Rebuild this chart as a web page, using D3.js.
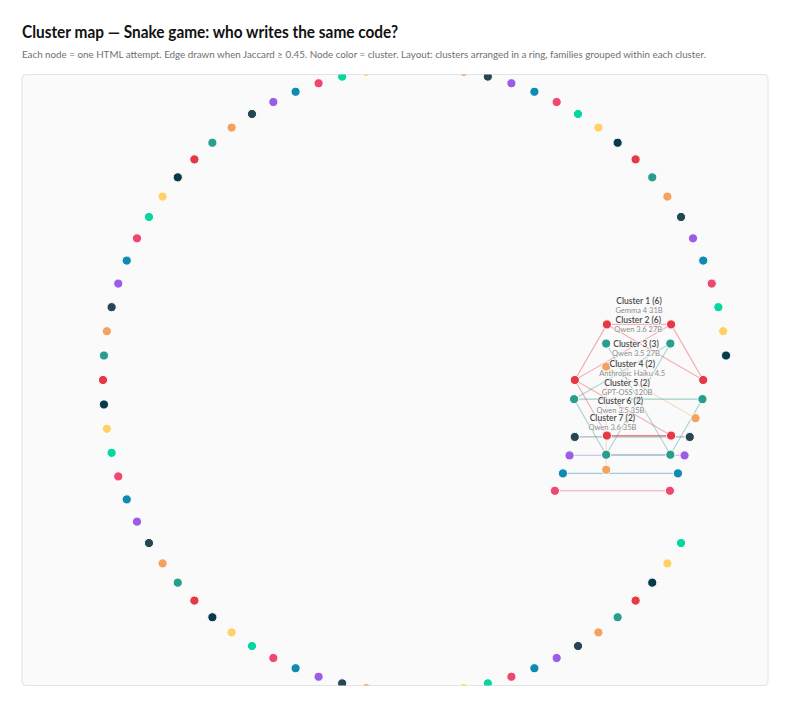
<!DOCTYPE html>
<html>
<head>
<meta charset="utf-8">
<script src="https://cdn.jsdelivr.net/npm/d3@7"></script>
<style>
  body { margin: 0; background: #fff; }
  svg { display: block; font-family: "Lato", "Noto Sans", sans-serif; }
</style>
</head>
<body>
<div id="chart"></div>
<script>
const width = 800;
const height = 708;
const panel = { x: 22, y: 74.5, w: 746, h: 611 };

// cluster sizes, biggest first; the rest are single attempts
const clusterSizes = [
  6, 6, 3, 2, 2, 2, 2,
  1, 1, 1, 1, 1, 1, 1, 1, 1, 1, 1, 1, 1, 1, 1, 1, 1, 1, 1, 1, 1, 1, 1, 1, 1, 1, 1, 1, 1, 1, 1,
  1, 1, 1, 1, 1, 1, 1, 1, 1, 1, 1, 1, 1, 1, 1, 1, 1, 1, 1, 1, 1, 1, 1, 1, 1, 1, 1, 1, 1, 1, 1,
  1, 1, 1, 1, 1, 1, 1, 1, 1, 1, 1,
];
const clusterFamilies = [
  "Gemma 4 31B",
  "Qwen 3.6 27B",
  "Qwen 3.5 27B",
  "Anthropic Haiku 4.5",
  "GPT-OSS 120B",
  "Qwen 3.5 35B",
  "Qwen 3.6 35B",
];
// [cluster, node a, node b] for pairs with Jaccard >= 0.45
const edgeList = [
  [0, 4, 5], [0, 3, 4], [0, 5, 0], [0, 4, 0], [0, 5, 3], [0, 3, 1], [0, 2, 1], [0, 3, 2],
  [1, 3, 0], [1, 4, 1], [1, 5, 2], [1, 3, 2], [1, 0, 1], [1, 3, 5], [1, 2, 1],
  [2, 2, 0], [2, 2, 1],
  [3, 0, 1], [4, 0, 1], [5, 0, 1], [6, 0, 1],
];
const edgeJaccard = [
  0.5, 0.52, 0.52, 0.5, 0.48, 0.5, 0.68, 0.5,
  0.55, 0.5, 0.5, 0.5, 0.5, 0.47, 0.5,
  0.48, 0.46,
  0.5, 0.5, 0.52, 0.55,
];
const palette = [
  "#e63946", "#2a9d8f", "#f4a261", "#264653", "#9b5de5",
  "#118ab2", "#ef476f", "#06d6a0", "#ffd166", "#073b4c",
];

const cx = panel.w / 2;
const cy = panel.h / 2;
const angle = d3.scaleLinear().domain([0, clusterSizes.length]).range([0, 2 * Math.PI]);
const color = d3.scaleOrdinal().domain(d3.range(clusterSizes.length)).range(palette);
const edgeOpacity = d3.scaleLinear().domain([0.45, 0.8]).range([0.3, 0.8]).clamp(true);
const ringRadius = (n) => (n > 1 ? 244 : 312);
const orbitRadius = (n) => (n > 1 ? 48.4 + 6.44 * Math.sqrt(n) : 20);

const clusters = clusterSizes.map((n, i) => {
  const a = angle(i);
  const R = ringRadius(n);
  return { i, n, x: cx + R * Math.cos(a), y: cy + R * Math.sin(a), r: orbitRadius(n) };
});
const nodes = clusters.flatMap((c) =>
  d3.range(c.n).map((j) => {
    const a = (2 * Math.PI * j) / c.n;
    return { cluster: c.i, j, x: c.x + c.r * Math.cos(a), y: c.y + c.r * Math.sin(a) };
  })
);
const nodeAt = (c, j) => nodes.find((d) => d.cluster === c && d.j === j);
// small clusters first so the big ones sit on top
const edges = edgeList
  .map(([c, a, b], k) => ({ c, a: nodeAt(c, a), b: nodeAt(c, b), w: edgeJaccard[k] }))
  .reverse();

const svg = d3
  .select("#chart")
  .append("svg")
  .attr("width", width)
  .attr("height", height);

svg
  .append("text")
  .attr("x", 22)
  .attr("y", 38)
  .attr("font-size", 16.5)
  .attr("font-weight", 700)
  .attr("fill", "#111")
  .attr("textLength", 376)
  .attr("lengthAdjust", "spacingAndGlyphs")
  .text("Cluster map — Snake game: who writes the same code?");

svg
  .append("text")
  .attr("x", 22)
  .attr("y", 58)
  .attr("font-size", 9.5)
  .attr("fill", "#6f6f6f")
  .attr("textLength", 684)
  .attr("lengthAdjust", "spacingAndGlyphs")
  .text(
    "Each node = one HTML attempt. Edge drawn when Jaccard ≥ 0.45. Node color = cluster. Layout: clusters arranged in a ring, families grouped within each cluster."
  );

svg
  .append("defs")
  .append("clipPath")
  .attr("id", "panel-clip")
  .append("rect")
  .attr("width", panel.w)
  .attr("height", panel.h)
  .attr("rx", 4);

const g = svg.append("g").attr("transform", `translate(${panel.x}, ${panel.y})`);

g.append("rect")
  .attr("width", panel.w)
  .attr("height", panel.h)
  .attr("rx", 4)
  .attr("fill", "#fafafa")
  .attr("stroke", "#e4e4e4");

const plot = g.append("g").attr("clip-path", "url(#panel-clip)");

plot
  .append("g")
  .selectAll("line")
  .data(edges)
  .join("line")
  .attr("x1", (d) => d.a.x)
  .attr("y1", (d) => d.a.y)
  .attr("x2", (d) => d.b.x)
  .attr("y2", (d) => d.b.y)
  .attr("stroke", (d) => color(d.c))
  .attr("stroke-opacity", (d) => edgeOpacity(d.w))
  .attr("stroke-width", 1.2);

plot
  .append("g")
  .selectAll("circle")
  .data(nodes)
  .join("circle")
  .attr("cx", (d) => d.x)
  .attr("cy", (d) => d.y)
  .attr("r", 4.6)
  .attr("fill", (d) => color(d.cluster))
  .attr("stroke", "#fff")
  .attr("stroke-width", 1);

const labels = plot
  .append("g")
  .selectAll("g")
  .data(clusters.filter((c) => c.n > 1))
  .join("g")
  .attr("transform", (c) => `translate(${c.x}, ${c.y - c.r})`)
  .attr("text-anchor", "middle")
  .attr("paint-order", "stroke")
  .attr("stroke", "#fafafa")
  .attr("stroke-width", 1.5)
  .attr("stroke-linejoin", "round");

labels
  .append("text")
  .attr("y", -12)
  .attr("font-size", 8.5)
  .attr("font-weight", 600)
  .attr("fill", "#4a4a4a")
  .text((c) => `Cluster ${c.i + 1} (${c.n})`);

labels
  .append("text")
  .attr("y", -3)
  .attr("font-size", 7.5)
  .attr("fill", "#8c8c8c")
  .text((c) => clusterFamilies[c.i]);
</script>
</body>
</html>
